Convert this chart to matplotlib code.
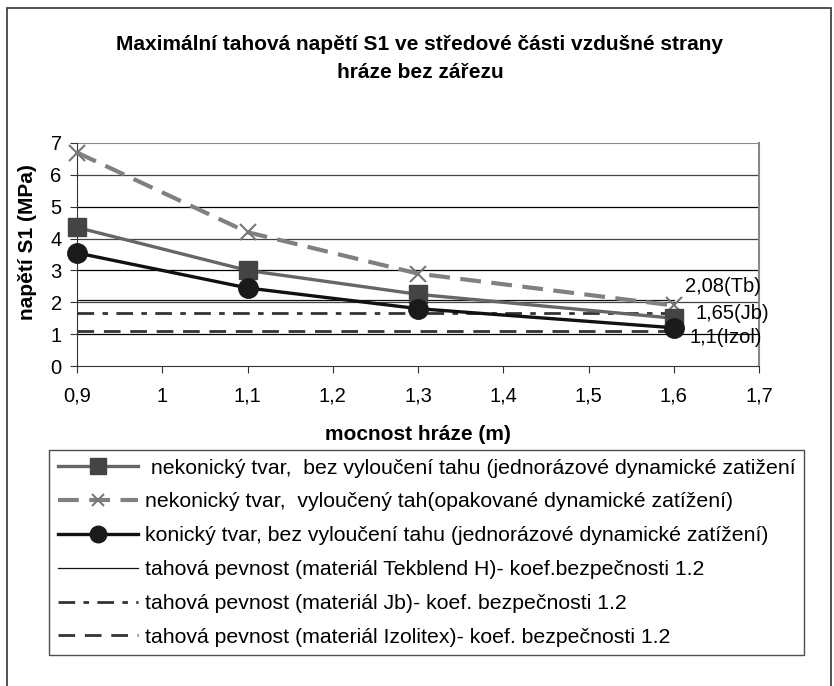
import matplotlib
matplotlib.use("Agg")
import matplotlib.pyplot as plt
from matplotlib.patches import Rectangle

plt.rcParams["font.family"] = ["Liberation Sans", "DejaVu Sans"]

# data
mocnost = [0.9, 1.1, 1.3, 1.6]
nekon_bez = [4.35, 3.0, 2.25, 1.5]
nekon_vyl = [6.7, 4.2, 2.9, 1.9]
konic_bez = [3.55, 2.45, 1.8, 1.2]
pevnost_x = [0.9, 1.6]
pevnost_tb = 2.08
pevnost_jb = 1.65
pevnost_izol = 1.1

labels = [
    " nekonický tvar,  bez vyloučení tahu (jednorázové dynamické zatižení",
    "nekonický tvar,  vyloučený tah(opakované dynamické zatížení)",
    "konický tvar, bez vyloučení tahu (jednorázové dynamické zatížení)",
    "tahová pevnost (materiál Tekblend H)- koef.bezpečnosti 1.2",
    "tahová pevnost (materiál Jb)- koef. bezpečnosti 1.2",
    "tahová pevnost (materiál Izolitex)- koef. bezpečnosti 1.2",
]

W, H = 834, 686
fig = plt.figure(figsize=(W / 100, H / 100), dpi=100)
ax = fig.add_axes([77 / W, 1 - 366 / H, (759 - 77) / W, (366 - 143) / H])

# outer chart frame
fig.patches.append(Rectangle((7 / W, -0.02), (831 - 7) / W, 1 - 8 / H + 0.02,
                             transform=fig.transFigure, fill=False,
                             ec="#333333", lw=1.2))

for y in range(1, 7):
    ax.axhline(y, color="#000000" if y % 2 else "#444444", lw=0.9, zorder=1)
ax.axhline(7, color="#888888", lw=1.5, zorder=1)

l1, = ax.plot(mocnost, nekon_bez, "-s", color="#666666", lw=2.4,
              mfc="#444444", mec="#444444", ms=13, zorder=4, clip_on=False)
l2, = ax.plot(mocnost, nekon_vyl, "--x", color="#808080", lw=3, dashes=(5, 2.5),
              mec="#777777", ms=11, mew=1.5, zorder=3, clip_on=False)
l3, = ax.plot(mocnost, konic_bez, "-o", color="#111111", lw=2.4,
              mfc="#1a1a1a", mec="#1a1a1a", ms=14, zorder=5, clip_on=False)
l4, = ax.plot(pevnost_x, [pevnost_tb] * 2, "-", color="#111111", lw=0.9, zorder=2)
l5, = ax.plot(pevnost_x, [pevnost_jb] * 2, "-", color="#333333", lw=2,
              dashes=(6, 3, 2, 3), zorder=2)
l6, = ax.plot(pevnost_x, [pevnost_izol] * 2, "-", color="#333333", lw=2,
              dashes=(6, 3.5), zorder=2)

ax.text(1.613, 2.48, "2,08(Tb)", fontsize=14.5, ha="left", va="center")
ax.text(1.625, 1.66, "1,65(Jb)", fontsize=14.5, ha="left", va="center")
ax.text(1.618, 0.91, "1,1(Izol)", fontsize=14.5, ha="left", va="center")

ax.set_xlim(0.9, 1.7)
ax.set_ylim(0, 7)
ax.set_xticks([0.9, 1.0, 1.1, 1.2, 1.3, 1.4, 1.5, 1.6, 1.7])
ax.set_xticklabels(["0,9", "1", "1,1", "1,2", "1,3", "1,4", "1,5", "1,6", "1,7"])
ax.set_yticks(range(8))
ax.tick_params(labelsize=14.5, length=5, direction="out", color="#333333")
ax.tick_params(axis="x", pad=10)
ax.tick_params(axis="y", pad=6)
ax.spines["top"].set_visible(False)
ax.spines["right"].set_color("#888888")
ax.spines["right"].set_linewidth(1.5)
ax.spines["left"].set_color("#333333")
ax.spines["bottom"].set_color("#333333")

fig.text(420 / W, 1 - 45 / H, "Maximální tahová napětí S1 ve středové části vzdušné strany",
         ha="center", va="center", fontsize=15, fontweight="bold")
fig.text(420 / W, 1 - 72 / H, "hráze bez zářezu",
         ha="center", va="center", fontsize=15, fontweight="bold")
fig.text(28 / W, 1 - 242 / H, "napětí S1 (MPa)", rotation=90,
         ha="center", va="center", fontsize=15, fontweight="bold")
fig.text(418 / W, 1 - 435 / H, "mocnost hráze (m)",
         ha="center", va="center", fontsize=15, fontweight="bold")

leg = fig.legend([l1, l2, l3, l4, l5, l6], labels,
                 loc="upper left", bbox_to_anchor=(49 / W, 1 - 450 / H),
                 fontsize=15.3, frameon=True, fancybox=False, handlelength=3.8,
                 handletextpad=0.3, labelspacing=0.7, borderpad=0.4,
                 borderaxespad=0, numpoints=1, markerscale=0.85)
leg.get_frame().set_edgecolor("#222222")
leg.get_frame().set_linewidth(1)

fig.savefig("out.png", dpi=100)
